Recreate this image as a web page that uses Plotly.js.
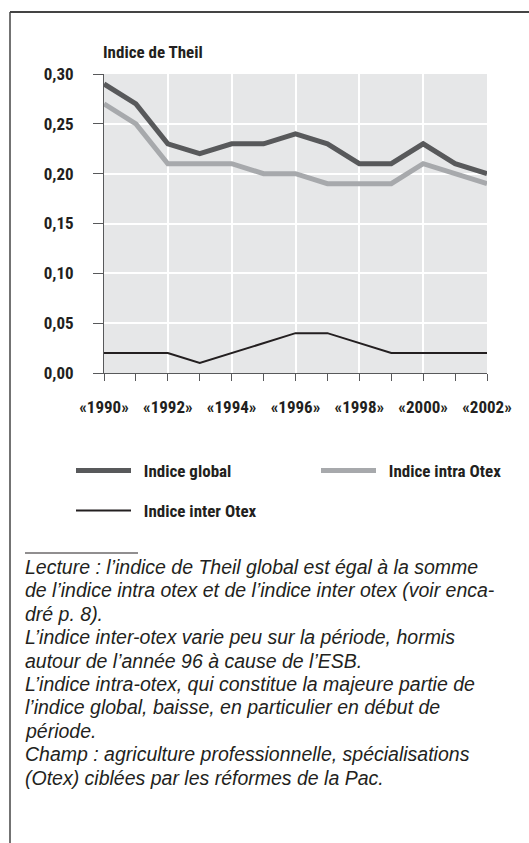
<!DOCTYPE html>
<html>
<head>
<meta charset="utf-8">
<script src="https://cdn.plot.ly/plotly-3.0.1.min.js"></script>
<style>
  html, body { margin: 0; padding: 0; background: #ffffff; }
  #chart { width: 529px; height: 843px; }
</style>
</head>
<body>
<div id="chart"></div>
<script>
// ---- data ----
const years = [1990, 1991, 1992, 1993, 1994, 1995, 1996, 1997, 1998, 1999, 2000, 2001, 2002];
const indiceGlobal = [0.29, 0.27, 0.23, 0.22, 0.23, 0.23, 0.24, 0.23, 0.21, 0.21, 0.23, 0.21, 0.20];
const indiceIntra  = [0.27, 0.25, 0.21, 0.21, 0.21, 0.20, 0.20, 0.19, 0.19, 0.19, 0.21, 0.20, 0.19];
const indiceInter  = [0.02, 0.02, 0.02, 0.01, 0.02, 0.03, 0.04, 0.04, 0.03, 0.02, 0.02, 0.02, 0.02];
const seriesNames = ['Indice global', 'Indice intra Otex', 'Indice inter Otex'];
const xTickVals = [1990, 1992, 1994, 1996, 1998, 2000, 2002];
const xTickLabels = ['«1990»', '«1992»', '«1994»', '«1996»', '«1998»', '«2000»', '«2002»'];
const yTickVals = [0, 0.05, 0.10, 0.15, 0.20, 0.25, 0.30];
const chartTitle = 'Indice de Theil';
const noteLines = [
  'Lecture : l’indice de Theil global est égal à la somme',
  'de l’indice intra otex et de l’indice inter otex (voir enca-',
  'dré p. 8).',
  'L’indice inter-otex varie peu sur la période, hormis',
  'autour de l’année 96 à cause de l’ESB.',
  'L’indice intra-otex, qui constitue la majeure partie de',
  'l’indice global, baisse, en particulier en début de',
  'période.',
  'Champ : agriculture professionnelle, spécialisations',
  '(Otex) ciblées par les réformes de la Pac.'
];

// ---- geometry helpers (pixel -> paper) ----
const W = 529, H = 843;
const M = { l: 104, r: 42, t: 74, b: 470 };
const PW = W - M.l - M.r, PH = H - M.t - M.b;
const px = v => (v - M.l) / PW;
const py = v => (H - M.b - v) / PH;

const condFont = '"Roboto Condensed", "DejaVu Sans Condensed", "Liberation Sans Narrow", sans-serif';
const noteFont = '"Liberation Sans", Arial, Helvetica, sans-serif';
const axisColor = '#58595b';
const txt = '#231f20';
const labelFont = { family: condFont, size: 17, color: txt, weight: 'bold' };
const gap = '\u00a0\u00a0';

const traces = [
  { x: years, y: indiceGlobal, name: gap + seriesNames[0], type: 'scatter', mode: 'lines',
    line: { color: '#58595b', width: 5 }, legend: 'legend' },
  { x: years, y: indiceIntra, name: gap + seriesNames[1], type: 'scatter', mode: 'lines',
    line: { color: '#a7a9ac', width: 5 }, legend: 'legend2' },
  { x: years, y: indiceInter, name: gap + seriesNames[2], type: 'scatter', mode: 'lines',
    line: { color: '#231f20', width: 2 }, legend: 'legend3' }
];

const annotations = noteLines.map((t, i) => ({
  text: t, xref: 'paper', yref: 'paper', x: px(23), y: py(567 + i * 23.4),
  xanchor: 'left', yanchor: 'middle', showarrow: false,
  font: { family: noteFont, size: 19.5, color: txt, style: 'italic', weight: 'normal' }
}));
annotations.push({
  text: chartTitle, xref: 'paper', yref: 'paper', x: px(101), y: py(52),
  xanchor: 'left', yanchor: 'middle', showarrow: false, font: labelFont
});

const legendBase = {
  orientation: 'h', xanchor: 'left', yanchor: 'top', itemwidth: 55,
  bgcolor: 'rgba(0,0,0,0)', font: labelFont
};

const layout = {
  width: W, height: H,
  margin: M,
  paper_bgcolor: '#ffffff',
  plot_bgcolor: '#e6e7e8',
  separators: ', ',
  font: labelFont,
  xaxis: {
    range: [1990, 2002], tickvals: xTickVals, ticktext: xTickLabels,
    showline: true, linecolor: axisColor, linewidth: 1,
    ticks: 'outside', ticklen: 7, tickcolor: axisColor, tickwidth: 1,
    minor: { dtick: 1, tick0: 1990, ticks: 'outside', ticklen: 7, tickcolor: axisColor, showgrid: false },
    showgrid: true, gridcolor: '#ffffff', gridwidth: 2,
    zeroline: false, ticklabelstandoff: 12,
    tickfont: labelFont
  },
  yaxis: {
    range: [0, 0.30], tickvals: yTickVals, tickformat: '.2f',
    showline: true, linecolor: axisColor, linewidth: 1,
    ticks: 'outside', ticklen: 10, tickcolor: axisColor, tickwidth: 1,
    showgrid: true, gridcolor: '#ffffff', gridwidth: 2,
    zeroline: false, ticklabelstandoff: 16,
    tickfont: labelFont
  },
  showlegend: true,
  legend:  Object.assign({}, legendBase, { x: px(71),  y: py(453) }),
  legend2: Object.assign({}, legendBase, { x: px(316), y: py(453) }),
  legend3: Object.assign({}, legendBase, { x: px(71),  y: py(493) }),
  shapes: [
    { type: 'line', xref: 'paper', yref: 'paper', x0: px(10), x1: px(529), y0: py(12), y1: py(12),
      line: { color: '#444444', width: 2 } },
    { type: 'line', xref: 'paper', yref: 'paper', x0: px(10), x1: px(10), y0: py(12), y1: py(843),
      line: { color: '#444444', width: 1.5 } },
    { type: 'line', xref: 'paper', yref: 'paper', x0: px(25), x1: px(138), y0: py(553), y1: py(553),
      line: { color: '#231f20', width: 1 } }
  ],
  annotations: annotations
};

Plotly.newPlot('chart', traces, layout, { displayModeBar: false, staticPlot: true });
</script>
</body>
</html>
